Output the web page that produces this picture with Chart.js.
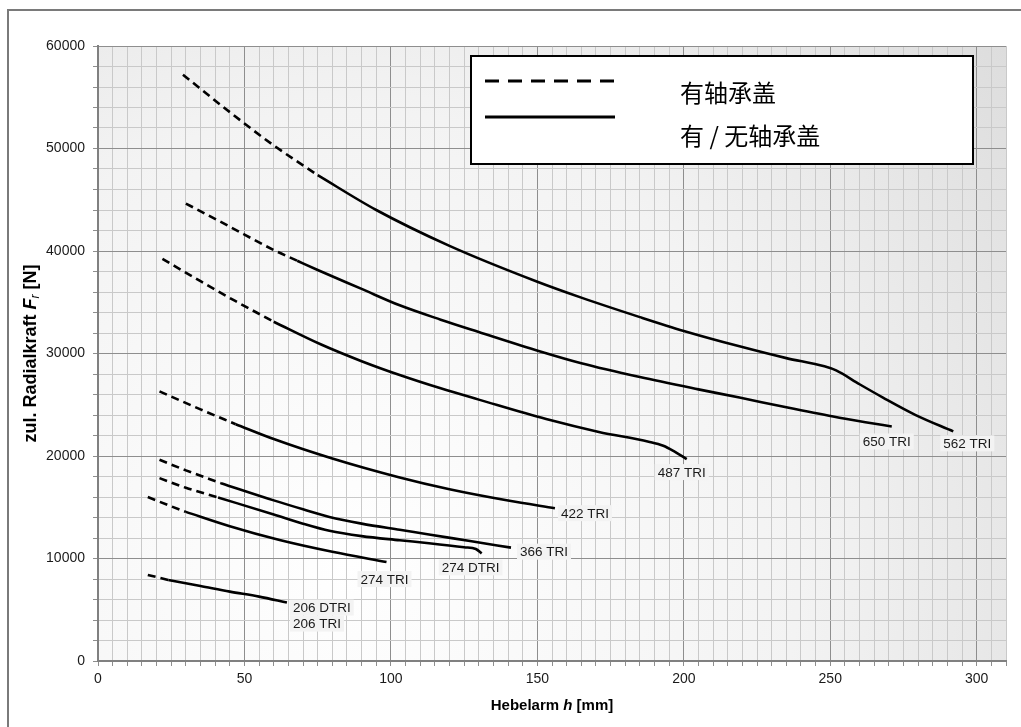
<!DOCTYPE html>
<html><head><meta charset="utf-8">
<script src="https://cdn.jsdelivr.net/npm/chart.js@4/dist/chart.umd.min.js"></script>
<style>html,body{margin:0;padding:0;background:#fff;}canvas{display:block;}</style>
</head><body>
<canvas id="c" width="1021" height="727"></canvas>
<script>
// ---- data (Hebelarm h [mm] -> zul. Radialkraft Fr [N]) ----
const h562 = [29, 45, 60, 75, 95, 120, 150, 165, 185, 200, 219, 235, 248, 252, 260, 268, 279, 292];
const f562 = [57200, 53550, 50300, 47400, 44000, 40500, 37000, 35450, 33550, 32200, 30700, 29550, 28750, 28350, 27000, 25700, 24020, 22400];
const h650 = [30, 45, 60, 68, 75, 90, 103, 117, 130, 151, 165, 185, 205, 219, 235, 251, 262, 271];
const f650 = [44630, 42370, 40100, 39050, 38150, 36300, 34700, 33300, 32100, 30200, 29050, 27700, 26500, 25700, 24750, 23850, 23300, 22880];
const h487 = [22, 35, 47, 60, 76, 90, 103, 117, 130, 153, 171, 188, 193, 197, 201];
const f487 = [39230, 37050, 35100, 33100, 30900, 29250, 27900, 26600, 25500, 23600, 22350, 21400, 21000, 20400, 19700];
const h422 = [21, 35, 47, 60, 80, 103, 120, 140, 156];
const f422 = [26300, 24550, 23100, 21650, 19750, 17900, 16750, 15650, 14910];
const h366 = [21, 30, 42, 60, 70, 79, 90, 103, 113, 127, 141];
const f366 = [19630, 18600, 17350, 15670, 14800, 14050, 13400, 12800, 12350, 11700, 11060];
const h274d = [21, 30, 41, 60, 70, 79, 90, 103, 113, 125, 129, 131];
const f274d = [17840, 16900, 15950, 14300, 13400, 12700, 12180, 11780, 11490, 11100, 10930, 10500];
const h274 = [17, 24, 30, 45, 62, 80, 98.5];
const f274 = [16000, 15200, 14550, 13150, 11800, 10650, 9650];
const h206 = [17, 24, 35, 45, 55, 64.5];
const f206 = [8400, 7910, 7320, 6770, 6280, 5700];
// h where the dashed part (with bearing cover) ends
const dashEnds = [75, 68, 60, 47, 42, 41, 30, 24];
const curveLabels = [['562 TRI'], ['650 TRI'], ['487 TRI'], ['422 TRI'], ['366 TRI'], ['274 DTRI'], ['274 TRI'], ['206 DTRI', '206 TRI']];
const legendLabels = ['有轴承盖', '有 / 无轴承盖'];
const xTickLabels = [0, 50, 100, 150, 200, 250, 300];
const yTickLabels = [0, 10000, 20000, 30000, 40000, 50000, 60000];

// ---- styling / placement (pixel offsets from curve end) ----
const labelOffsets = [[-10, 12], [-29, 15], [-29, 13], [6, 5], [9, 4], [-40, 14], [-26, 17], [6, 5]];
const SANS = '"Liberation Sans", Arial, sans-serif';
const CJK = '"Noto Sans CJK SC", "Noto Sans CJK JP", sans-serif';

const hs = [h562, h650, h487, h422, h366, h274d, h274, h206];
const fs = [f562, f650, f487, f422, f366, f274d, f274, f206];

const datasets = [];
hs.forEach((h, k) => {
  const f = fs[k], de = dashEnds[k];
  const dashed = [], solid = [];
  h.forEach((x, i) => {
    if (x <= de) dashed.push({x, y: f[i]});
    if (x >= de) solid.push({x, y: f[i]});
  });
  const base = {showLine: true, borderColor: '#000', borderWidth: 2.6, pointRadius: 0, fill: false, cubicInterpolationMode: 'monotone'};
  datasets.push(Object.assign({}, base, {data: dashed, borderDash: [8, 5]}));
  datasets.push(Object.assign({}, base, {data: solid}));
});

const bgPlugin = {
  id: 'bg',
  beforeDraw(chart) {
    const {ctx, chartArea: a} = chart;
    ctx.save();
    ctx.fillStyle = '#fff';
    ctx.fillRect(0, 0, chart.width, chart.height);
    ctx.strokeStyle = '#7a7a7a';
    ctx.lineWidth = 2;
    ctx.strokeRect(8, 10, 1040, 740);
    const g = ctx.createRadialGradient(350, 560, 0, 350, 560, 900);
    g.addColorStop(0, '#ffffff');
    g.addColorStop(0.5, '#f3f3f3');
    g.addColorStop(1, '#d9d9d9');
    ctx.fillStyle = g;
    ctx.fillRect(a.left, a.top, a.right - a.left, a.bottom - a.top);
    ctx.restore();
  }
};

function drawRuns(ctx, runs, cx, cy) {
  let total = 0;
  runs.forEach(r => { ctx.font = r[1]; total += ctx.measureText(r[0]).width; });
  let x = cx - total / 2;
  runs.forEach(r => {
    ctx.font = r[1];
    ctx.fillText(r[0], x, cy + (r[2] || 0));
    x += ctx.measureText(r[0]).width;
  });
}

const overlayPlugin = {
  id: 'overlay',
  afterDraw(chart) {
    const {ctx} = chart;
    const xs = chart.scales.x, ys = chart.scales.y;
    ctx.save();
    ctx.textBaseline = 'middle';
    ctx.font = '13.5px ' + SANS;
    hs.forEach((h, k) => {
      const px = xs.getPixelForValue(h[h.length - 1]);
      const py = ys.getPixelForValue(fs[k][fs[k].length - 1]);
      const [ox, oy] = labelOffsets[k];
      curveLabels[k].forEach((t, j) => {
        const w = ctx.measureText(t).width;
        const lx = px + ox, ly = py + oy + j * 16;
        ctx.fillStyle = 'rgba(243,243,243,1)';
        ctx.fillRect(lx - 3, ly - 8, w + 6, 16);
        ctx.fillStyle = '#1a1a1a';
        ctx.fillText(t, lx, ly + 1);
      });
    });
    ctx.fillStyle = '#000';
    ctx.textAlign = 'left';
    drawRuns(ctx, [
      ['Hebelarm ', 'bold 15px ' + SANS],
      ['h', 'bold italic 15px ' + SANS],
      [' [mm]', 'bold 15px ' + SANS]
    ], (chart.chartArea.left + chart.chartArea.right) / 2, 706);
    ctx.save();
    ctx.translate(31, (chart.chartArea.top + chart.chartArea.bottom) / 2);
    ctx.rotate(-Math.PI / 2);
    drawRuns(ctx, [
      ['zul. Radialkraft ', 'bold 18px ' + SANS],
      ['F', 'bold italic 18px ' + SANS],
      ['r', 'italic 12px ' + SANS, 5],
      [' [N]', 'bold 18px ' + SANS]
    ], 0, 0);
    ctx.restore();
    // legend box
    ctx.fillStyle = '#fff';
    ctx.fillRect(471, 56, 502, 108);
    ctx.strokeStyle = '#000';
    ctx.lineWidth = 2;
    ctx.strokeRect(471, 56, 502, 108);
    ctx.lineWidth = 3;
    ctx.setLineDash([14, 9]);
    ctx.beginPath(); ctx.moveTo(485, 81); ctx.lineTo(615, 81); ctx.stroke();
    ctx.setLineDash([]);
    ctx.beginPath(); ctx.moveTo(485, 117); ctx.lineTo(615, 117); ctx.stroke();
    ctx.fillStyle = '#000';
    ctx.font = '24px ' + CJK;
    ctx.textBaseline = 'middle';
    ctx.fillText(legendLabels[0], 680, 93);
    ctx.fillText(legendLabels[1], 680, 136);
    ctx.restore();
  }
};

const gridColor = (major) => (c) => (c.tick && major(c.tick.value)) ? '#8e8e8e' : '#c9c9c9';

new Chart(document.getElementById('c'), {
  type: 'scatter',
  data: {datasets},
  options: {
    responsive: false,
    animation: false,
    devicePixelRatio: 1,
    layout: {padding: {left: 0, right: 15, top: 46, bottom: 0}},
    plugins: {legend: {display: false}, tooltip: {enabled: false}},
    scales: {
      x: {
        type: 'linear', min: 0, max: 310,
        afterFit(s) { s.height = 66; },
        ticks: {
          stepSize: 5, autoSkip: false, maxRotation: 0, padding: 5,
          color: '#1a1a1a', font: {size: 14, family: SANS},
          callback: v => xTickLabels.includes(v) ? String(v) : ''
        },
        grid: {color: gridColor(v => v % 50 === 0), tickColor: '#8e8e8e', lineWidth: 1, tickLength: 5},
        border: {color: '#808080', width: 2}
      },
      y: {
        type: 'linear', min: 0, max: 60000,
        afterFit(s) { s.width = 98; },
        ticks: {
          stepSize: 2000, autoSkip: false, padding: 8,
          color: '#1a1a1a', font: {size: 14, family: SANS},
          callback: v => yTickLabels.includes(v) ? String(v) : ''
        },
        grid: {color: gridColor(v => v % 10000 === 0), tickColor: '#8e8e8e', lineWidth: 1, tickLength: 5},
        border: {color: '#808080', width: 2}
      }
    }
  },
  plugins: [bgPlugin, overlayPlugin]
});
</script>
</body></html>
